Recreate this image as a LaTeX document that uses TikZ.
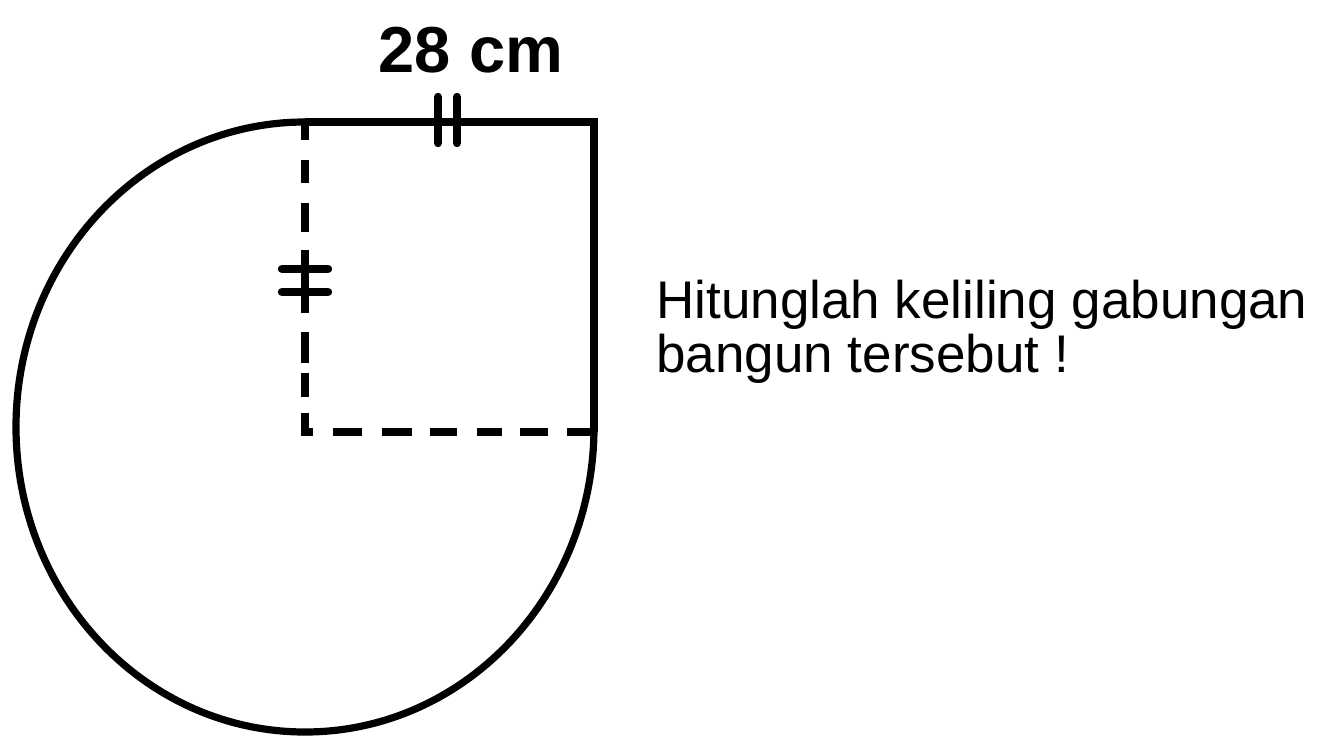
\documentclass[tikz,border=0pt]{standalone}
\usepackage{fontspec}
\setmainfont{Liberation Sans}
\begin{document}
\begin{tikzpicture}[x=0.5pt,y=-0.5pt,
  outline/.style={line width=4pt,line cap=butt,line join=miter},
  arcline/.style={line width=3.6pt},
  dashseg/.style={line width=4pt,line cap=butt},
  tick/.style={line width=4.2pt,line cap=round},
  lbl/.style={inner sep=0pt,anchor=base},
  txt/.style={inner sep=0pt,anchor=base west,font=\fontsize{26.5pt}{27pt}\selectfont}]
\useasboundingbox (0,0) rectangle (1328,744);
% key points
\coordinate (TL) at (305,122);
\coordinate (TR) at (594,122);
\coordinate (BR) at (594,427);
\coordinate (C) at (305,427);
% three-quarter ellipse arc
\draw[arcline] (TL) arc[start angle=270, end angle=0, x radius=289, y radius=305];
% solid sides of the square
\draw[outline] (TL) -- (TR) -- (594,432);
% dashed left side
\foreach \a/\b in {122/140,160/183,203/232,250/313,332/363,373/397,413/434}
  \draw[dashseg] (305,\a) -- (305,\b);
% dashed bottom side
\foreach \a/\b in {301/313,333/362,382/412,430/457,477/502,520/548,567/594}
  \draw[dashseg] (\a,432) -- (\b,432);
% tick marks
\draw[tick] (438,97) -- (438,143);
\draw[tick] (457,97) -- (457,143);
\draw[tick] (282,269) -- (328,269);
\draw[tick] (282,292) -- (328,292);
% labels
\node[lbl,font=\fontsize{32.5pt}{34pt}\selectfont\bfseries] (len) at (471,72) {28 cm};
\node[txt] (q1) at (656,318) {Hitunglah keliling gabungan};
\node[txt] (q2) at (656,372) {bangun tersebut !};
\end{tikzpicture}
\end{document}
